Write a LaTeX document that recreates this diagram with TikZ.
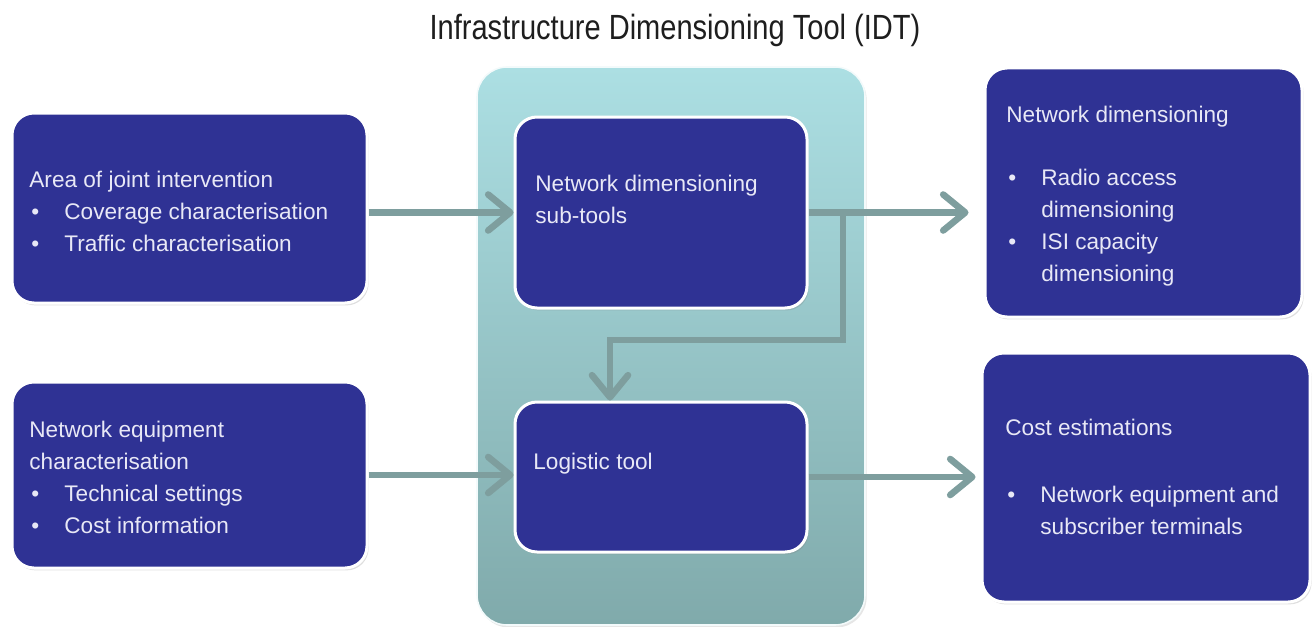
\documentclass[tikz,border=0pt]{standalone}
\usepackage{fontspec}
\setmainfont{Liberation Sans}
\newfontfamily\headfont{Liberation Sans}[FakeStretch=0.83]
\usetikzlibrary{arrows.meta,shadows}

\definecolor{boxblue}{RGB}{47,50,148}
\definecolor{boxtext}{RGB}{232,232,246}
\definecolor{flow}{RGB}{126,158,158}
\definecolor{paneltop}{RGB}{172,223,227}
\definecolor{panelbot}{RGB}{128,170,171}
\definecolor{headgray}{RGB}{30,30,30}

% bullet item and its continuation line
\newcommand{\bul}[1]{\makebox[17.5pt][l]{\hspace{1pt}\textbullet}#1}
\newcommand{\cnt}[1]{\hspace*{17.5pt}#1}

\begin{document}
\begin{tikzpicture}[x=0.5pt,y=-0.5pt,
  blockbox/.style={rectangle, rounded corners=11pt, fill=boxblue, draw=white,
    line width=1.5pt, inner sep=0pt,
    drop shadow={opacity=0.25, shadow xshift=0.8pt, shadow yshift=-1.2pt}},
  panelbox/.style={rectangle, rounded corners=15pt, top color=paneltop,
    bottom color=panelbot, draw=white!85!paneltop, line width=0.8pt, inner sep=0pt,
    drop shadow={opacity=0.2, shadow xshift=0.8pt, shadow yshift=-1.2pt}},
  boxlabel/.style={anchor=north west, inner sep=0pt, align=left, text=boxtext,
    font=\fontsize{11.3pt}{16pt}\selectfont},
  flowline/.style={draw=flow, line width=3.3pt},
  flowarrow/.style={flowline,
    -{Straight Barb[length=11pt, width=18pt, line width=3.3pt, round]}}
]
\useasboundingbox (0,0) rectangle (1315,626);

% title
\node[anchor=base, text=headgray, font=\headfont\fontsize{17.5pt}{20pt}\selectfont]
  (title) at (675,40) {Infrastructure Dimensioning Tool (IDT)};

% central tool panel
\node[panelbox, minimum width=194pt, minimum height=279pt] (panel) at (671,346) {};

% blocks
\node[blockbox, minimum width=177.5pt, minimum height=95pt]   (A) at (189.5,208) {};
\node[blockbox, minimum width=177.5pt, minimum height=93pt]   (B) at (189.5,475) {};
\node[blockbox, minimum width=146pt,   minimum height=95.5pt] (C) at (661,212.5) {};
\node[blockbox, minimum width=146pt,   minimum height=75pt]   (D) at (661,477) {};
\node[blockbox, minimum width=158.5pt, minimum height=124.5pt] (E) at (1143.5,192.5) {};
\node[blockbox, minimum width=164pt,   minimum height=124.5pt] (F) at (1146,477.5) {};

% block texts
\node[boxlabel] (Atext) at (29,164.6) {\strut Area of joint intervention\\
  \bul{Coverage characterisation}\\
  \bul{Traffic characterisation}};
\node[boxlabel] (Btext) at (29,414.6) {\strut Network equipment\\
  characterisation\\
  \bul{Technical settings}\\
  \bul{Cost information}};
\node[boxlabel] (Ctext) at (535,168.6) {\strut Network dimensioning\\ sub-tools};
\node[boxlabel] (Dtext) at (533,446.6) {\strut Logistic tool};
\node[boxlabel] (Etext) at (1006,99.6) {\strut Network dimensioning\\[15.5pt]
  \bul{Radio access}\\
  \cnt{dimensioning}\\
  \bul{ISI capacity}\\
  \cnt{dimensioning}};
\node[boxlabel] (Ftext) at (1005,412.6) {\strut Cost estimations\\[17.5pt]
  \bul{Network equipment and}\\
  \cnt{subscriber terminals}};

% flows
\coordinate (split) at (843,212);
\coordinate (turn) at (610,340);
\draw[flowarrow] (A.east |- C.west) -- (C.west);
\draw[flowarrow, shorten >=7.5pt] (C.east) -- (C.east -| E.west);
\draw[flowarrow] (split) |- (turn) -- (turn |- D.north);
\draw[flowarrow] (B.east) -- (B.east -| D.west);
\draw[flowarrow, shorten >=2.5pt] (D.east) -- (D.east -| F.west);
\end{tikzpicture}
\end{document}
